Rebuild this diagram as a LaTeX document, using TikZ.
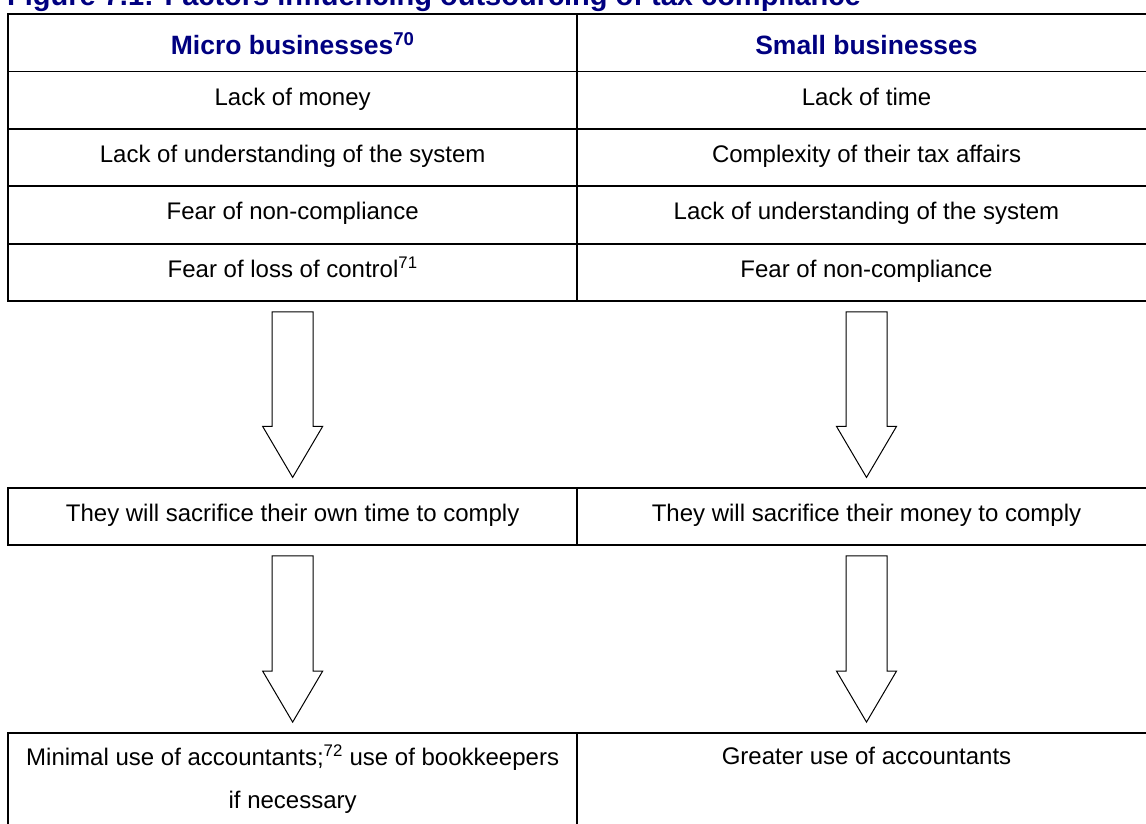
\documentclass[tikz,border=0pt]{standalone}
\usepackage{fontspec}
\setmainfont{Liberation Sans}
\usetikzlibrary{calc}
\definecolor{navyblue}{RGB}{0,0,128}
\tikzset{
  cell/.style={draw=black, line width=1.8pt, inner sep=0pt, align=center,
    font=\fontsize{24}{43}\selectfont},
  oneline/.style={text height=17pt, text depth=7pt},
  lcell/.style={cell, minimum width=568.7pt},
  rcell/.style={cell, minimum width=579pt},
  toprow/.style={minimum height=57.4pt},
  headtext/.style={font=\fontsize{26.5}{32}\selectfont\bfseries, text=navyblue,
    text height=26pt, text depth=2pt},
  blockarrow/.style={draw=black, line width=1pt, fill=white, line join=miter},
  titletext/.style={font=\fontsize{29}{34}\selectfont\bfseries, text=navyblue, inner sep=0pt}
}
\newcommand\blkarrow[2]{%
  \draw[blockarrow] ($(#1)+(-20.5,0)$) -- ($(#1)+(20.5,0)$) -- ($(#2)+(20.5,-51)$)
    -- ($(#2)+(30,-51)$) -- (#2) -- ($(#2)+(-30,-51)$) -- ($(#2)+(-20.5,-51)$) -- cycle;}
\begin{document}
\begin{tikzpicture}[x=1pt,y=-1pt]
\useasboundingbox (0,0) rectangle (1146,823);
\fill[white] (0,0) rectangle (1146,823);
% title (partly cut off at the top)
\node[titletext, anchor=base west] (title) at (7,5) {Figure 7.1: Factors influencing outsourcing of tax compliance};
% top table
\node[lcell, toprow, headtext] (H1) at (292.65,42.7) {Micro businesses\textsuperscript{70}};
\node[rcell, toprow, headtext] (H2) at (866.5,42.7) {Small businesses};
\node[lcell, toprow, oneline] (L1) at (292.65,100.1) {Lack of money};
\node[rcell, toprow, oneline] (R1) at (866.5,100.1) {Lack of time};
\node[lcell, toprow, oneline] (L2) at (292.65,157.5) {Lack of understanding of the system};
\node[rcell, toprow, oneline] (R2) at (866.5,157.5) {Complexity of their tax affairs};
\node[lcell, toprow, oneline] (L3) at (292.65,214.9) {Fear of non-compliance};
\node[rcell, toprow, oneline] (R3) at (866.5,214.9) {Lack of understanding of the system};
\node[lcell, toprow, oneline] (L4) at (292.65,272.3) {Fear of loss of control\textsuperscript{71}};
\node[rcell, toprow, oneline] (R4) at (866.5,272.3) {Fear of non-compliance};
% middle table
\node[lcell, oneline, minimum height=56.7pt] (M1) at (292.65,516.65) {They will sacrifice their own time to comply};
\node[rcell, oneline, minimum height=56.7pt] (M2) at (866.5,516.65) {They will sacrifice their money to comply};
% bottom table
\node[lcell, minimum height=93pt] (B1) at (292.65,779.5)
  {Minimal use of accountants;\textsuperscript{72} use of bookkeepers\\if necessary};
\node[rcell, minimum height=93pt, text height=17pt, text depth=48pt] (B2) at (866.5,779.5)
  {Greater use of accountants};
% arrow end points
\coordinate (a1s) at ($(L4.south)+(0,10)$);
\coordinate (a1t) at ($(M1.north)+(0,-10)$);
\coordinate (a2s) at ($(R4.south)+(0,10)$);
\coordinate (a2t) at ($(M2.north)+(0,-10)$);
\coordinate (a3s) at ($(M1.south)+(0,10)$);
\coordinate (a3t) at ($(B1.north)+(0,-10)$);
\coordinate (a4s) at ($(M2.south)+(0,10)$);
\coordinate (a4t) at ($(B2.north)+(0,-10)$);
\blkarrow{a1s}{a1t}
\blkarrow{a2s}{a2t}
\blkarrow{a3s}{a3t}
\blkarrow{a4s}{a4t}
\end{tikzpicture}
\end{document}
